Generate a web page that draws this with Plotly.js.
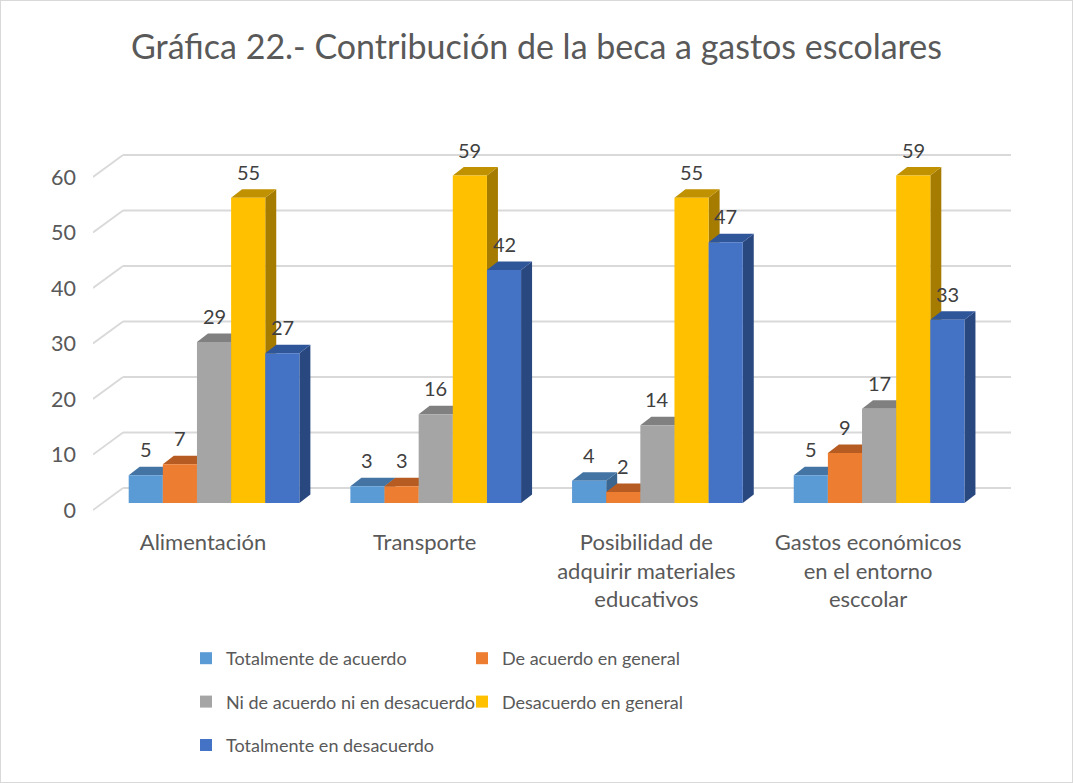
<!DOCTYPE html>
<html><head><meta charset="utf-8">
<script src="https://cdn.plot.ly/plotly-3.0.1.min.js"></script>
<style>body{margin:0;background:#fff}#c{width:1073px;height:783px;position:relative}#f{position:absolute;left:0;top:0;width:1073px;height:783px;box-sizing:border-box;border:1px solid #d9d9d9;pointer-events:none}</style>
</head><body><div id="c"></div><div id="f"></div>
<script>
const categories = ['Alimentación','Transporte','Posibilidad de<br>adquirir materiales<br>educativos','Gastos económicos<br>en el entorno<br>esccolar'];
const seriesNames = ['Totalmente de acuerdo','De acuerdo en general','Ni de acuerdo ni en desacuerdo','Desacuerdo en general','Totalmente en desacuerdo'];
const totalmenteAcuerdo = [5,3,4,5];
const deAcuerdoGeneral = [7,3,2,9];
const niAcuerdoNiDesacuerdo = [29,16,14,17];
const desacuerdoGeneral = [55,59,55,59];
const totalmenteDesacuerdo = [27,42,47,33];
const seriesValues = [totalmenteAcuerdo,deAcuerdoGeneral,niAcuerdoNiDesacuerdo,desacuerdoGeneral,totalmenteDesacuerdo];
const yTicks = [0,10,20,30,40,50,60];

const frontColors = ['#5B9BD5','#ED7D31','#A5A5A5','#FFC000','#4472C4'];
const topColors = ['#4374A3','#B65C22','#808080','#C09100','#30569A'];
const sideColors = ['#3A6690','#A04F1C','#707070','#A67C00','#2A4880'];

const FONT = 'Lato, "Open Sans", sans-serif';
const TXT = '#595959';
const W = 1073, H = 783;
const M = {l:93, r:62, t:150, b:271};
const xRange = [-0.546, 3.595];
const yRange = [-1.62, 63.6];
const pw = W - M.l - M.r, ph = H - M.t - M.b;
const pxX = pw / (xRange[1]-xRange[0]);
const pxY = ph / (yRange[1]-yRange[0]);
const bargap = 0.23;
const nS = seriesValues.length;
const bw = (1-bargap)/nS;
const dX = 11 / pxX, dY = 8.5 / pxY;
const xIdx = categories.map((c,i)=>i);

const traces = seriesValues.map((vals,k)=>({
  type:'bar', name:seriesNames[k], x:xIdx, y:vals,
  marker:{color:frontColors[k]}, legend: (k%2===0)?'legend':'legend2',
  legendgroup:'g'+k, hoverinfo:'y+name'
}));

const shapes = [];
const backOff = 2.7, frontOff = -1.26, backX = xRange[0] + 30/pxX;
yTicks.forEach(v=>{
  shapes.push({type:'line', layer:'below', xref:'x', yref:'y', x0:xRange[0], y0:v+frontOff, x1:backX, y1:v+backOff, line:{color:'#D9D9D9', width:1.8}});
  shapes.push({type:'line', layer:'below', xref:'x', yref:'y', x0:backX, y0:v+backOff, x1:xRange[1], y1:v+backOff, line:{color:'#D9D9D9', width:1.8}});
});
const annotations = [];
xIdx.forEach(i=>{
  seriesValues.forEach((vals,k)=>{
    const v = vals[i];
    const x0 = i - (1-bargap)/2 + k*bw, x1 = x0 + bw;
    shapes.push({type:'path', layer:'below', xref:'x', yref:'y', line:{width:0},
      fillcolor:sideColors[k],
      path:`M${x1},0 L${x1+dX},${dY} L${x1+dX},${v+dY} L${x1},${v} Z`});
    shapes.push({type:'path', layer:'below', xref:'x', yref:'y', line:{width:0},
      fillcolor:topColors[k],
      path:`M${x0},${v} L${x1},${v} L${x1+dX},${v+dY} L${x0+dX},${v+dY} Z`});
    annotations.push({xref:'x', yref:'y', x:(x0+x1)/2, y:v, yanchor:'bottom', yshift:12,
      text:String(v), showarrow:false, font:{family:FONT, size:20, color:'#404040'}});
  });
});

const layout = {
  width:W, height:H, margin:{l:M.l, r:M.r, t:M.t, b:M.b, pad:0},
  paper_bgcolor:'#fff', plot_bgcolor:'rgba(0,0,0,0)',
  font:{family:FONT, color:TXT},
  title:{text:'Gráfica 22.- Contribución de la beca a gastos escolares', x:0.5, xanchor:'center', y:1-47/H, yref:'container', yanchor:'middle', font:{family:FONT, size:34, color:TXT}},
  barmode:'group', bargap:bargap, bargroupgap:0,
  xaxis:{range:xRange, tickvals:xIdx, ticktext:categories, showgrid:false, zeroline:false, showline:false, ticks:'', tickfont:{family:FONT, size:22, color:TXT}, ticklabelshift:-11, ticklabelstandoff:15, fixedrange:true},
  yaxis:{range:yRange, tickvals:yTicks, showgrid:false, zeroline:false, showline:false, ticks:'', tickfont:{family:FONT, size:21.5, color:TXT}, ticklabelshift:7, ticklabelstandoff:16, fixedrange:true},
  showlegend:true,
  legend:{x:(186-M.l)/pw, xanchor:'left', y:(M.t+ph-640)/ph, yanchor:'top', orientation:'v', traceorder:'grouped', tracegroupgap:17, font:{family:FONT, size:18, color:TXT}, bgcolor:'rgba(0,0,0,0)'},
  legend2:{x:(462-M.l)/pw, xanchor:'left', y:(M.t+ph-640)/ph, yanchor:'top', orientation:'v', traceorder:'grouped', tracegroupgap:17, font:{family:FONT, size:18, color:TXT}, bgcolor:'rgba(0,0,0,0)'},
  shapes:shapes, annotations:annotations
};
Plotly.newPlot('c', traces, layout, {displayModeBar:false, staticPlot:true});
</script></body></html>
